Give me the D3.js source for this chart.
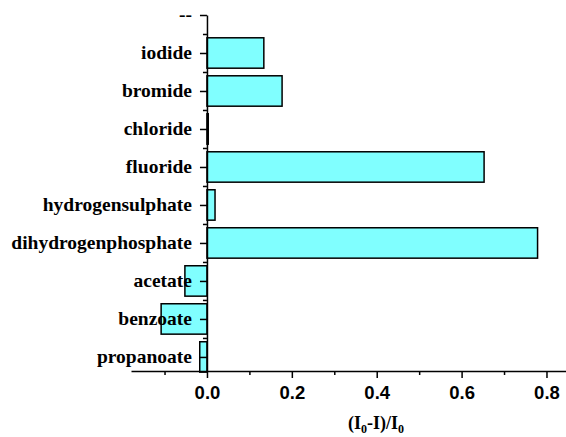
<!DOCTYPE html>
<html>
<head>
<meta charset="utf-8">
<script src="https://cdn.jsdelivr.net/npm/d3@7"></script>
<style>
  body { margin: 0; background: #fff; }
  svg { display: block; }
</style>
</head>
<body>
<div id="chart"></div>
<script>
// categories from bottom to top, "--" is an empty slot at the top
var anions = ["propanoate", "benzoate", "acetate", "dihydrogenphosphate", "hydrogensulphate",
              "fluoride", "chloride", "bromide", "iodide", "--"];
var quench = [-0.017, -0.108, -0.052, 0.779, 0.019, 0.653, 0.003, 0.177, 0.134, null];
var xTicks = [0.0, 0.2, 0.4, 0.6, 0.8];
var xMinor = [-0.1, 0.1, 0.3, 0.5, 0.7];

var width = 566, height = 437;

var svg = d3.select("#chart").append("svg")
    .attr("width", width)
    .attr("height", height);

// Scales
var xScale = d3.scaleLinear().domain([-0.179, 0.846]).range([131, 566]);
var yScale = d3.scaleLinear().domain([0.63, anions.length]).range([371, 15]);
var band = yScale(1) - yScale(2);
var barH = band * 0.8;

// Bars
var rows = anions.map((a, i) => ({ name: a, pos: i + 1, v: quench[i] }))
    .filter(d => d.v !== null);

svg.append("g").selectAll("rect")
  .data(rows)
  .enter().append("rect")
    .attr("x", d => xScale(Math.min(0, d.v)))
    .attr("y", d => yScale(d.pos) - barH / 2)
    .attr("width", d => Math.abs(xScale(d.v) - xScale(0)))
    .attr("height", barH)
    .style("fill", "#80ffff")
    .style("stroke", "#000")
    .style("stroke-width", "1.5px");

// X axis
var xAxis = svg.append("g").attr("transform", "translate(0," + yScale(0.63) + ")");
xAxis.call(d3.axisBottom(xScale).tickValues(xTicks).tickFormat(d3.format(".1f")).tickSize(7).tickSizeOuter(0));
var xMinorG = svg.append("g").attr("transform", "translate(0," + yScale(0.63) + ")");
xMinorG.call(d3.axisBottom(xScale).tickValues(xMinor).tickFormat("").tickSize(4).tickSizeOuter(0));
xMinorG.select(".domain").remove();

xAxis.selectAll("text")
    .attr("y", 15)
    .attr("dy", "0.71em")
    .style("font-family", "'Liberation Sans', Arial, sans-serif")
    .style("font-weight", "bold")
    .style("font-size", "18.5px")
    .style("fill", "#000");

// Y axis
var yAxis = svg.append("g").attr("transform", "translate(" + xScale(0) + ",0)");
yAxis.call(d3.axisLeft(yScale)
    .tickValues(anions.map((a, i) => i + 1))
    .tickFormat((d, i) => anions[i])
    .tickSize(7).tickSizeOuter(0));
var yMinorG = svg.append("g").attr("transform", "translate(" + xScale(0) + ",0)");
yMinorG.call(d3.axisLeft(yScale)
    .tickValues(anions.slice(1).map((a, i) => i + 1.5))
    .tickFormat("").tickSize(4).tickSizeOuter(0));
yMinorG.select(".domain").remove();

yAxis.selectAll("text")
    .attr("x", -15)
    .attr("dy", "0.3em")
    .style("font-family", "'Liberation Serif', 'Times New Roman', serif")
    .style("font-weight", "bold")
    .style("font-size", "19.5px")
    .style("fill", "#000");

svg.selectAll(".domain, .tick line")
    .style("stroke", "#000")
    .style("stroke-width", "1.5px");

// X axis title (I0-I)/I0
var title = svg.append("text")
    .attr("x", 376)
    .attr("y", 429)
    .attr("text-anchor", "middle")
    .style("font-family", "'Liberation Serif', 'Times New Roman', serif")
    .style("font-weight", "bold")
    .style("font-size", "18px");
title.append("tspan").text("(I");
title.append("tspan").attr("dy", 4).style("font-size", "12px").text("0");
title.append("tspan").attr("dy", -4).text("-I)/I");
title.append("tspan").attr("dy", 4).style("font-size", "12px").text("0");
</script>
</body>
</html>
